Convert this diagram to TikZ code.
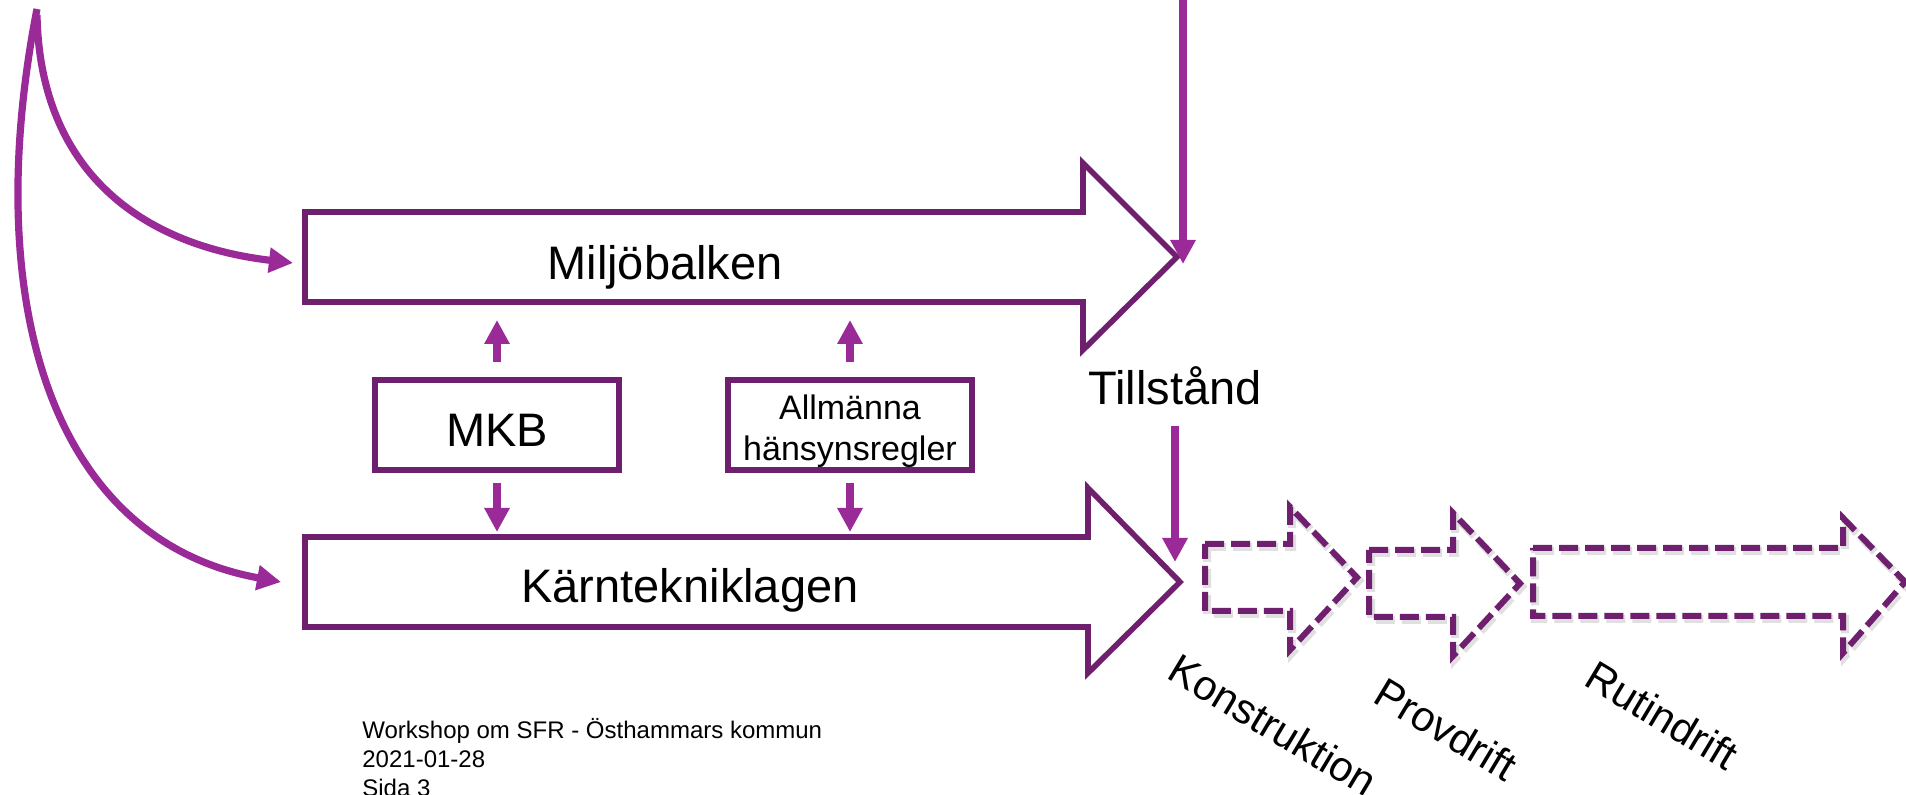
\documentclass[tikz,border=0pt]{standalone}
\usepackage{fontspec}
\setmainfont{Liberation Sans}
\usetikzlibrary{arrows.meta}

\definecolor{lawpurple}{HTML}{6E1F6E}
\definecolor{linkpurple}{HTML}{9A2A98}

\tikzset{
  lawarrow/.style={draw=lawpurple, line width=2.8pt},
  phasearrow/.style={draw=lawpurple, line width=3pt, dash pattern=on 9.5pt off 3.5pt},
  link/.style={draw=linkpurple, line width=3.6pt, -{Triangle[width=12pt,length=12pt]}},
  lawbox/.style={draw=lawpurple, line width=2.8pt, minimum width=122pt, minimum height=45pt, inner sep=0pt},
  big/.style={font=\fontsize{23.5}{27}\selectfont, inner sep=0pt},
  phase/.style={font=\fontsize{21}{25}\selectfont, rotate=-31, inner sep=0pt},
}

\begin{document}
\begin{tikzpicture}[x=0.5pt, y=-0.5pt]
    \useasboundingbox (0,0) rectangle (1906,795);

    % the two laws: left x / body top / body bottom / head x / head top / head bottom / tip x
    \foreach \xl/\yt/\yb/\xh/\ht/\hb/\xt in {305/212/302/1083/163/350/1177, 305/537/627/1088/488/673/1180} {
        \draw[lawarrow] (\xl,\yt) -- (\xh,\yt) -- (\xh,\ht) -- (\xt,{(\yt+\yb)/2})
            -- (\xh,\hb) -- (\xh,\yb) -- (\xl,\yb) -- cycle;
    }
    % the phases, dashed, with a faint shadow
    \foreach \xl/\yt/\yb/\xh/\ht/\hb/\xt in {1205/544/611/1290/507/650/1357, 1369/550/617/1453/513/656/1520, 1533/548/616/1843/518/653/1905} {
        \draw[phasearrow, draw=black, opacity=0.12, line width=4pt, shift={(2,3)}]
            (\xl,\yt) -- (\xh,\yt) -- (\xh,\ht) -- (\xt,{(\yt+\yb)/2})
            -- (\xh,\hb) -- (\xh,\yb) -- (\xl,\yb) -- cycle;
        \draw[phasearrow] (\xl,\yt) -- (\xh,\yt) -- (\xh,\ht) -- (\xt,{(\yt+\yb)/2})
            -- (\xh,\hb) -- (\xh,\yb) -- (\xl,\yb) -- cycle;
    }

    \node[big, anchor=base] (milj) at (665,280) {Miljöbalken};
    \node[big, anchor=base] (karn) at (690,603) {Kärntekniklagen};
    \node[lawbox, big, text height=22pt, text depth=0pt] (mkb) at (497,425) {MKB};
    \node[lawbox, align=center, text height=35.5pt, text depth=0pt, font=\fontsize{17}{20.5}\selectfont] (rules) at (850,425) {Allmänna\\hänsynsregler};
    \node[big, anchor=base] (till) at (1175,405) {Tillstånd};

    \node[phase] (konstr) at (1273,725) {Konstruktion};
    \node[phase] (prov) at (1446,729) {Provdrift};
    \node[phase] (rutin) at (1662,715) {Rutindrift};

    \node[anchor=base west, align=left, inner sep=0pt, font=\fontsize{12}{14.5}\selectfont] (footer)
        at (362,797) {Workshop om SFR - Östhammars kommun\\2021-01-28\\Sida 3};

    % edges of the law arrows
    \coordinate (miljbot) at (0,304);
    \coordinate (karntop) at (0,535);
    \coordinate (miljtip) at (1177,257);
    \coordinate (karntip) at (1180,582);
    \coordinate (src) at (37,9);
    \coordinate (miljin) at (293,263);
    \coordinate (karnin) at (281,582);

    \draw[link] ([yshift=-3pt]src) .. controls (40,170) and (140,245) .. (miljin);
    \draw[link] (src) .. controls (-20,300) and (50,540) .. (karnin);

    \draw[link, shorten <=7.5pt, shorten >=8pt] (mkb.north) -- (mkb.north |- miljbot);
    \draw[link, shorten <=7.5pt, shorten >=8pt] (rules.north) -- (rules.north |- miljbot);
    \draw[link, shorten <=5pt, shorten >=1.5pt] (mkb.south) -- (mkb.south |- karntop);
    \draw[link, shorten <=5pt, shorten >=1.5pt] (rules.south) -- (rules.south |- karntop);

    \draw[link] ([xshift=3pt]miljtip |- 0,-5) -- ([xshift=3pt,yshift=-3.5pt]miljtip);
    \draw[link, shorten <=10pt, shorten >=10pt] (till.south) -- (till.south |- karntip);
\end{tikzpicture}
\end{document}
